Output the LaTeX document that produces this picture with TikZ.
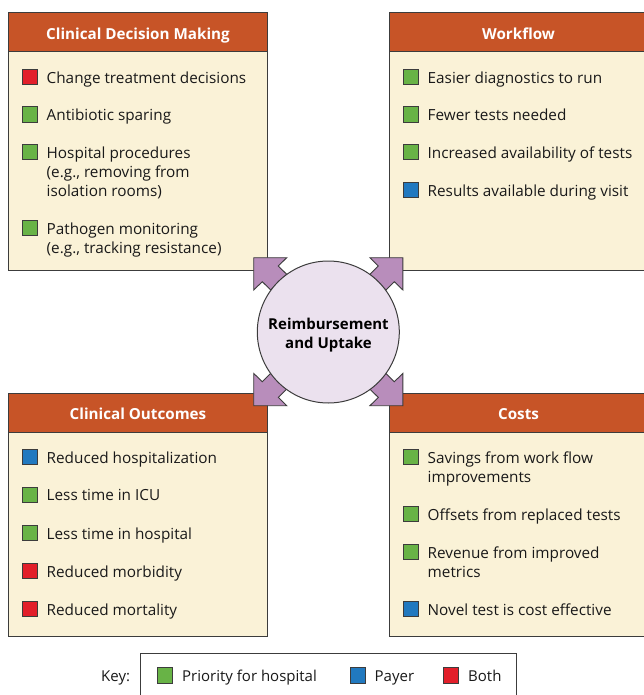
\documentclass[tikz,border=0pt]{standalone}
\usepackage{fontspec}
\setmainfont{Open Sans}
\definecolor{hdr}{HTML}{C75427}
\definecolor{cream}{HTML}{FAF2D7}
\definecolor{edge}{HTML}{3C3C3C}
\definecolor{gr}{HTML}{68B346}
\definecolor{bl}{HTML}{2179BF}
\definecolor{rd}{HTML}{E21F2A}
\definecolor{arrowfill}{HTML}{B88DBB}
\definecolor{circfill}{HTML}{EBE1EE}
\tikzset{
  body/.style={draw=edge,line width=1pt,fill=cream},
  head/.style={draw=edge,line width=1pt,fill=hdr},
  title/.style={anchor=base,text=white,font=\fontsize{15.2}{18}\selectfont\bfseries,inner sep=0pt},
  sq/.style={draw=edge,line width=.8pt,minimum size=15.5pt,inner sep=0pt},
  item/.style={anchor=north west,align=left,inner sep=0pt,text=black!90,font=\fontsize{15.3}{19}\selectfont},
  keytxt/.style={anchor=base west,inner sep=0pt,text=black!90,font=\fontsize{15}{19}\selectfont},
  blockarrow/.style={draw=edge,line width=.9pt,fill=arrowfill,line join=miter},
}
\newcommand{\entry}[5]{% name, colour, x of square, y centre, text
  \node[sq,fill=#2] (s#1) at (#3,#4) {};
  \node[item] (t#1) at (#3+16.5,#4-5.5) {#5};
}
\newcommand{\blockarr}[3]{% name, x scale, y scale
  \begin{scope}[shift={(328.3,331.7)},xscale=#2,yscale=#3]
    \coordinate (#1) at (-74.6,-74);
    \draw[blockarrow] (-74.6,-74) -- (-41.6,-74) -- (-50,-65.7) -- (-41.6,-57.4) -- (-57.6,-41.7) -- (-66,-50) -- (-74.6,-41.7) -- cycle;
  \end{scope}
}
\begin{document}
\begin{tikzpicture}[x=1pt,y=-1pt]
\useasboundingbox (0,0) rectangle (644,695);
\clip (0,0) rectangle (644,695);
% boxes
\draw[body] (8.5,13) rectangle (267.5,270.5);
\draw[head] (8.5,13) rectangle (267.5,52);
\node[title] (h1) at (138,39.7) {Clinical Decision Making};
\draw[body] (389.5,13) rectangle (660,270.5);
\draw[head] (389.5,13) rectangle (660,52);
\node[title] (h2) at (518.5,39.7) {Workflow};
\draw[body] (8.5,393) rectangle (267.5,636);
\draw[head] (8.5,393) rectangle (267.5,432);
\node[title] (h3) at (138,419.5) {Clinical Outcomes};
\draw[body] (389.5,393) rectangle (660,636);
\draw[head] (389.5,393) rectangle (660,432);
\node[title] (h4) at (518.5,419.5) {Costs};
% arrows and centre
\blockarr{a1}{1}{1}
\blockarr{a2}{-1}{1}
\blockarr{a3}{1}{-1}
\blockarr{a4}{-1}{-1}
\node[circle,draw=edge,line width=1pt,fill=circfill,minimum size=142pt,inner sep=0pt] (c) at (328.3,332) {};
\node[align=center,inner sep=0pt,font=\fontsize{15}{19}\selectfont\bfseries] (ct) at (328.5,335) {Reimbursement\\and Uptake};
% items
\entry{a}{rd}{30}{77}{Change treatment decisions}
\entry{b}{gr}{30}{114.5}{Antibiotic sparing}
\entry{c}{gr}{30}{152}{Hospital procedures\\(e.g., removing from\\isolation rooms)}
\entry{d}{gr}{30}{228}{Pathogen monitoring\\(e.g., tracking resistance)}
\entry{e}{gr}{411}{77}{Easier diagnostics to run}
\entry{f}{gr}{411}{114.5}{Fewer tests needed}
\entry{g}{gr}{411}{152}{Increased availability of tests}
\entry{h}{bl}{411}{190}{Results available during visit}
\entry{i}{bl}{30}{457}{Reduced hospitalization}
\entry{j}{gr}{30}{495}{Less time in ICU}
\entry{k}{gr}{30}{533}{Less time in hospital}
\entry{l}{rd}{30}{571}{Reduced morbidity}
\entry{m}{rd}{30}{609}{Reduced mortality}
\entry{n}{gr}{411}{457}{Savings from work flow\\improvements}
\entry{o}{gr}{411}{514}{Offsets from replaced tests}
\entry{p}{gr}{411}{552}{Revenue from improved\\metrics}
\entry{q}{bl}{411}{609}{Novel test is cost effective}
% key
\node[keytxt] (key) at (101,681) {Key:};
\draw[draw=edge,line width=1pt,fill=white] (140.5,653.5) rectangle (516.5,710);
\node[sq,fill=gr] (k1) at (165,675.5) {};
\node[keytxt] (k1t) at (182,681) {Priority for hospital};
\node[sq,fill=bl] (k2) at (358,675.5) {};
\node[keytxt] (k2t) at (374.5,681) {Payer};
\node[sq,fill=rd] (k3) at (451,675.5) {};
\node[keytxt] (k3t) at (468,681) {Both};
\end{tikzpicture}
\end{document}
